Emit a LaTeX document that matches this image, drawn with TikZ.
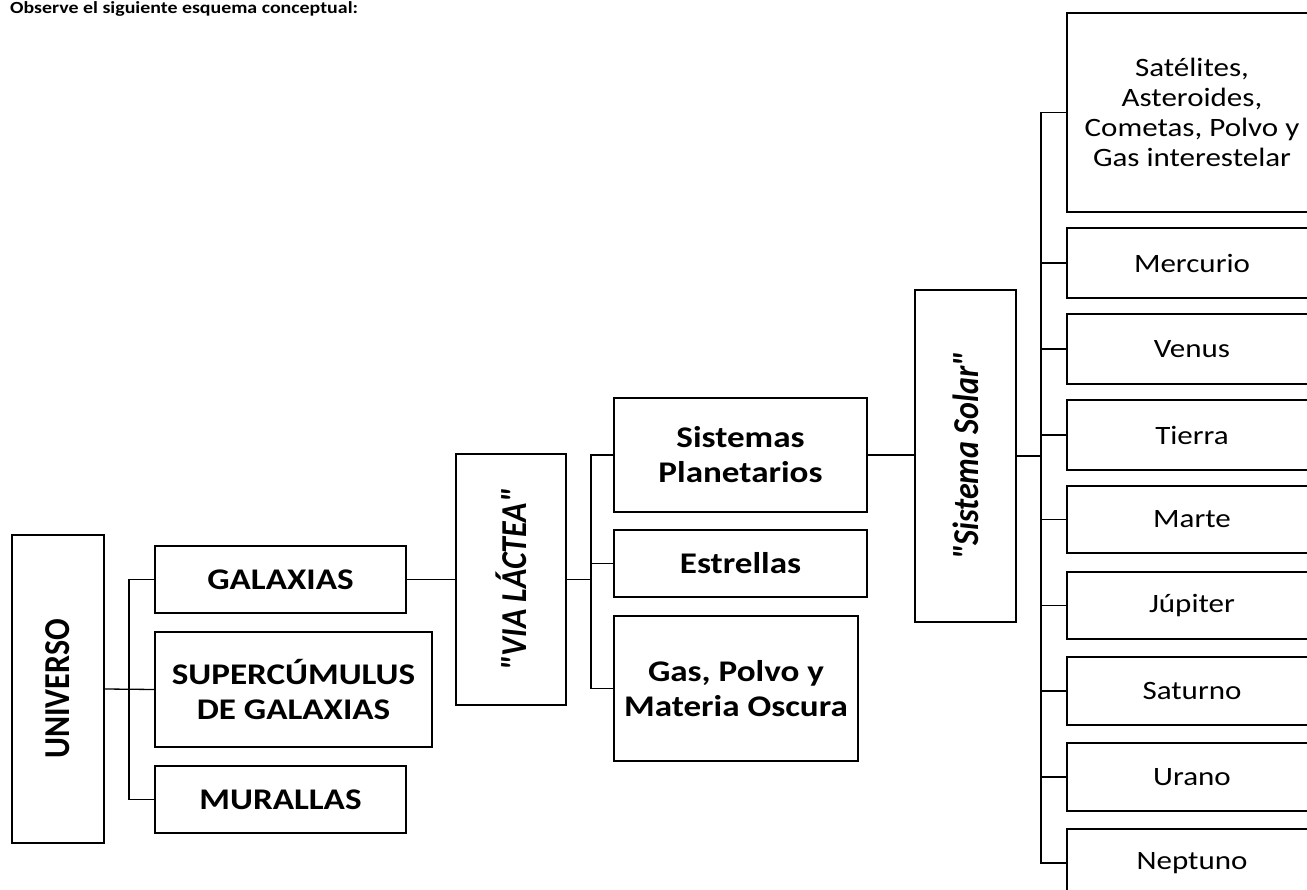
\documentclass[tikz,border=0pt]{standalone}
\usepackage{fontspec}
\setmainfont{Carlito}[FakeStretch=1.17]
\newfontfamily\rotfont{Carlito}
\begin{document}
\begin{tikzpicture}[x=1pt,y=-1pt,
  box/.style={draw, line width=1.3pt, inner sep=0pt, align=center, text=black},
  bbox/.style={box, font=\bfseries\fontsize{30}{35}\selectfont},
  rbox/.style={box, font=\fontsize{26.5}{31}\selectfont, minimum width=250pt},
  conn/.style={line width=1.3pt},
  rot/.style={rotate=90}]
\useasboundingbox (0,0) rectangle (1307,890);
% heading
\node[anchor=base west, inner sep=0pt, font=\bfseries\fontsize{17}{20}\selectfont] (head) at (10,14) {Observe el siguiente esquema conceptual:};
% left column
\node[box, minimum width=92pt, minimum height=308pt] (univ) at (58,689)
  {\rotatebox{90}{\scalebox{1}[1.14]{\rotfont\bfseries\fontsize{32}{38}\selectfont UNIVERSO}}};
\node[bbox, minimum width=251pt, minimum height=67pt] (gal) at (280.5,579.5) {GALAXIAS};
\node[bbox, minimum width=277pt, minimum height=115pt] (sup) at (293.5,689.5) {SUPERCÚMULUS\\DE GALAXIAS};
\node[bbox, minimum width=251pt, minimum height=67pt] (mur) at (280.5,799.5) {MURALLAS};
% via lactea
\node[box, minimum width=110pt, minimum height=251pt] (via) at (511,579.5)
  {\rotatebox{90}{\scalebox{1}[1.14]{\rotfont\bfseries\itshape\fontsize{32}{38}\selectfont "VIA LÁCTEA"}}};
\node[bbox, minimum width=253pt, minimum height=114pt] (sp) at (740.5,455) {Sistemas\\Planetarios};
\node[bbox, minimum width=253pt, minimum height=67pt] (est) at (740.5,563.5) {Estrellas};
\node[bbox, minimum width=244pt, minimum height=145pt] (gas) at (736,688.5) {Gas, Polvo y\\Materia Oscura};
% sistema solar
\node[box, minimum width=101pt, minimum height=332pt] (ss) at (965.5,456)
  {\rotatebox{90}{\scalebox{1}[1.14]{\rotfont\bfseries\itshape\fontsize{32}{38}\selectfont "Sistema Solar"}}};
% right column
\node[rbox, minimum height=199pt, font=\fontsize{26.5}{30}\selectfont] (sat) at (1192,112.5) {Satélites,\\Asteroides,\\Cometas, Polvo y\\Gas interestelar};
\node[rbox, minimum height=70pt] (mer) at (1192,263) {Mercurio};
\node[rbox, minimum height=70pt] (ven) at (1192,349) {Venus};
\node[rbox, minimum height=70pt] (tie) at (1192,435) {Tierra};
\node[rbox, minimum height=67pt] (mar) at (1192,519.5) {Marte};
\node[rbox, minimum height=67pt] (jup) at (1192,605.5) {Júpiter};
\node[rbox, minimum height=68pt] (satu) at (1192,691) {Saturno};
\node[rbox, minimum height=68pt] (ura) at (1192,777) {Urano};
\node[rbox, minimum height=68pt] (nep) at (1192,863) {Neptuno};
% connectors
\coordinate (b1) at (129,0);
\coordinate (b2) at (591,0);
\coordinate (b3) at (1041,0);
\draw[conn] (gal.west) -- (gal.west -| b1) -- (mur.west -| b1) -- (mur.west);
\draw[conn] (univ.east) -- (sup.west);
\draw[conn] (gal.east) -- (via.west);
\draw[conn] (sp.west) -- (sp.west -| b2) -- (gas.west -| b2) -- (gas.west);
\draw[conn] (via.east) -- (via.east -| b2);
\draw[conn] (est.west) -- (est.west -| b2);
\draw[conn] (sp.east) -- (sp.east -| ss.west);
\draw[conn] (sat.west) -- (sat.west -| b3) -- (nep.west -| b3) -- (nep.west);
\draw[conn, line width=2.2pt] (ss.east) -- (ss.east -| b3);
\foreach \n in {mer,ven,tie,mar,jup,satu,ura}
  \draw[conn] (\n.west) -- (\n.west -| b3);
\end{tikzpicture}
\end{document}
